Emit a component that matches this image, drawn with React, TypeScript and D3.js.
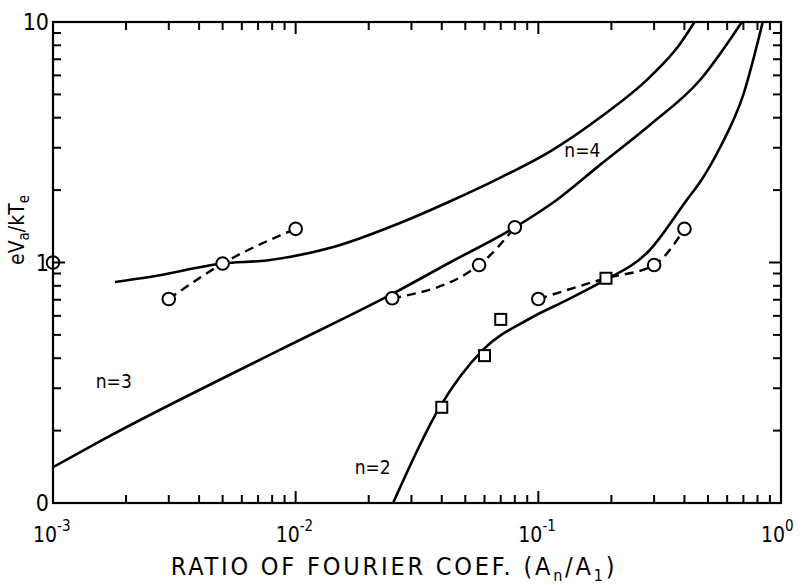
import React, { useRef, useEffect } from "react";
import * as d3 from "d3";

// solid theory curves, [ratio An/A1, eVa/kTe]
const n4Curve = [
  [0.0018, 0.83], [0.0025, 0.87], [0.005, 0.99], [0.0076, 1.02], [0.0143, 1.16],
  [0.0269, 1.46], [0.0445, 1.82], [0.0695, 2.25], [0.112, 2.9], [0.179, 4.0],
  [0.288, 5.9], [0.38, 8.0], [0.44, 10.0],
];
const n3Curve = [
  [0.001, 0.141], [0.0016, 0.183], [0.0086, 0.433], [0.025, 0.74], [0.0432, 1.0],
  [0.08, 1.4], [0.119, 1.82], [0.179, 2.54], [0.288, 3.73], [0.464, 5.74], [0.69, 10.0],
];
const n2Curve = [
  [0.0252, 0.1], [0.0393, 0.251], [0.0591, 0.433], [0.0923, 0.585], [0.131, 0.698],
  [0.179, 0.822], [0.288, 1.127], [0.409, 1.82], [0.464, 2.16], [0.56, 3.0],
  [0.7, 5.0], [0.841, 10.0],
];

// measured points joined by dashed lines
const dashedA = [[0.003, 0.705], [0.005, 0.99], [0.01, 1.38]];
const dashedB = [[0.025, 0.71], [0.057, 0.976], [0.08, 1.4]];
const dashedC = [[0.1, 0.705], [0.19, 0.86], [0.3, 0.976], [0.4, 1.38]];

const circlePts = [
  [0.001, 1.0], [0.003, 0.705], [0.005, 0.99], [0.01, 1.38],
  [0.025, 0.71], [0.057, 0.976], [0.08, 1.4],
  [0.1, 0.705], [0.3, 0.976], [0.4, 1.38],
];
const squarePts = [[0.04, 0.25], [0.06, 0.41], [0.07, 0.58], [0.19, 0.86]];

const xDecades = [1e-3, 1e-2, 1e-1, 1];
const xExponents = ["-3", "-2", "-1", "0"];
const yLabels = [
  { v: 10, t: "10" },
  { v: 1, t: "1" },
  { v: 0.1, t: "0" },
];
const curveLabels = [
  { t: "n=4", x: 0.128, y: 2.75 },
  { t: "n=3", x: 0.0015, y: 0.3 },
  { t: "n=2", x: 0.0175, y: 0.132 },
];

const W = 804;
const H = 585;
const font = "'Liberation Sans Narrow', 'DejaVu Sans Condensed', 'Liberation Sans', sans-serif";

const App = () => {
  const ref = useRef(null);

  useEffect(() => {
    const svg = d3.select(ref.current);
    svg.selectAll("*").remove();

    const x = d3.scaleLog().domain([1e-3, 1]).range([53, 781]);
    const y = d3.scaleLog().domain([0.1, 10]).range([503, 22]);

    svg.append("rect").attr("width", W).attr("height", H).attr("fill", "#fff");

    svg.append("clipPath").attr("id", "plot-clip")
      .append("rect")
      .attr("x", 53).attr("y", 22)
      .attr("width", 781 - 53).attr("height", 503 - 22);

    const line = d3.line()
      .x((d) => x(d[0]))
      .y((d) => y(d[1]))
      .curve(d3.curveMonotoneX);

    const plot = svg.append("g").attr("clip-path", "url(#plot-clip)");

    // solid curves
    [n4Curve, n3Curve, n2Curve].forEach((c) => {
      plot.append("path")
        .attr("d", line(c))
        .attr("fill", "none")
        .attr("stroke", "#000")
        .attr("stroke-width", 2.6);
    });

    // dashed connections
    [dashedA, dashedB, dashedC].forEach((c) => {
      plot.append("path")
        .attr("d", line(c))
        .attr("fill", "none")
        .attr("stroke", "#000")
        .attr("stroke-width", 2.4)
        .attr("stroke-dasharray", "9,6");
    });

    // markers
    svg.append("g").selectAll("circle")
      .data(circlePts)
      .join("circle")
      .attr("cx", (d) => x(d[0]))
      .attr("cy", (d) => y(d[1]))
      .attr("r", 6.3)
      .attr("fill", "#fff")
      .attr("stroke", "#000")
      .attr("stroke-width", 2);

    svg.append("g").selectAll("rect")
      .data(squarePts)
      .join("rect")
      .attr("x", (d) => x(d[0]) - 5.5)
      .attr("y", (d) => y(d[1]) - 5.5)
      .attr("width", 11)
      .attr("height", 11)
      .attr("fill", "#fff")
      .attr("stroke", "#000")
      .attr("stroke-width", 2);

    // frame
    svg.append("rect")
      .attr("x", 53).attr("y", 22)
      .attr("width", 781 - 53).attr("height", 503 - 22)
      .attr("fill", "none")
      .attr("stroke", "#000")
      .attr("stroke-width", 2.2);

    // inward ticks on all four sides
    const isMajor = (v) => Math.abs(Math.log10(v) - Math.round(Math.log10(v))) < 1e-6;
    const ticks = svg.append("g").attr("stroke", "#000").attr("stroke-width", 2);
    x.ticks().forEach((v) => {
      const len = isMajor(v) ? 12 : 8;
      ticks.append("line").attr("x1", x(v)).attr("x2", x(v)).attr("y1", 503).attr("y2", 503 - len);
      ticks.append("line").attr("x1", x(v)).attr("x2", x(v)).attr("y1", 22).attr("y2", 22 + len);
    });
    y.ticks().forEach((v) => {
      const len = isMajor(v) ? 12 : 8;
      ticks.append("line").attr("y1", y(v)).attr("y2", y(v)).attr("x1", 53).attr("x2", 53 + len);
      ticks.append("line").attr("y1", y(v)).attr("y2", y(v)).attr("x1", 781).attr("x2", 781 - len);
    });

    // x tick labels 10^n
    xDecades.forEach((v, i) => {
      const t = svg.append("text")
        .attr("x", x(v) - 20)
        .attr("y", 542)
        .attr("font-family", font)
        .attr("font-size", 21)
        .attr("fill", "#000");
      t.append("tspan").text("10");
      t.append("tspan").attr("dy", -11).attr("font-size", 15).text(xExponents[i]);
    });

    // y tick labels
    yLabels.forEach((d) => {
      svg.append("text")
        .attr("x", 49)
        .attr("y", y(d.v) + 8)
        .attr("text-anchor", "end")
        .attr("font-family", font)
        .attr("font-size", 23)
        .attr("fill", "#000")
        .text(d.t);
    });

    // curve labels
    curveLabels.forEach((d) => {
      svg.append("text")
        .attr("x", x(d.x))
        .attr("y", y(d.y))
        .attr("font-family", font)
        .attr("font-size", 19)
        .attr("fill", "#000")
        .text(d.t);
    });

    // x title
    const xt = svg.append("text")
      .attr("x", 394)
      .attr("y", 575)
      .attr("text-anchor", "middle")
      .attr("font-family", font)
      .attr("font-size", 25)
      .attr("letter-spacing", 2.8)
      .attr("fill", "#000");
    xt.append("tspan").text("RATIO OF FOURIER COEF.  (A");
    xt.append("tspan").attr("dy", 6).attr("font-size", 16).text("n");
    xt.append("tspan").attr("dy", -6).text("/A");
    xt.append("tspan").attr("dy", 6).attr("font-size", 16).text("1");
    xt.append("tspan").attr("dy", -6).text(")");

    // y title
    const yt = svg.append("text")
      .attr("transform", "translate(24,230) rotate(-90)")
      .attr("text-anchor", "middle")
      .attr("font-family", font)
      .attr("font-size", 21)
      .attr("fill", "#000");
    yt.append("tspan").text("eV");
    yt.append("tspan").attr("dy", 5).attr("font-size", 15).text("a");
    yt.append("tspan").attr("dy", -5).text("/kT");
    yt.append("tspan").attr("dy", 5).attr("font-size", 15).text("e");
  }, []);

  return (
    <svg
      ref={ref}
      width={W}
      height={H}
      style={{ position: "absolute", left: 0, top: 0 }}
    />
  );
};

export default App;
